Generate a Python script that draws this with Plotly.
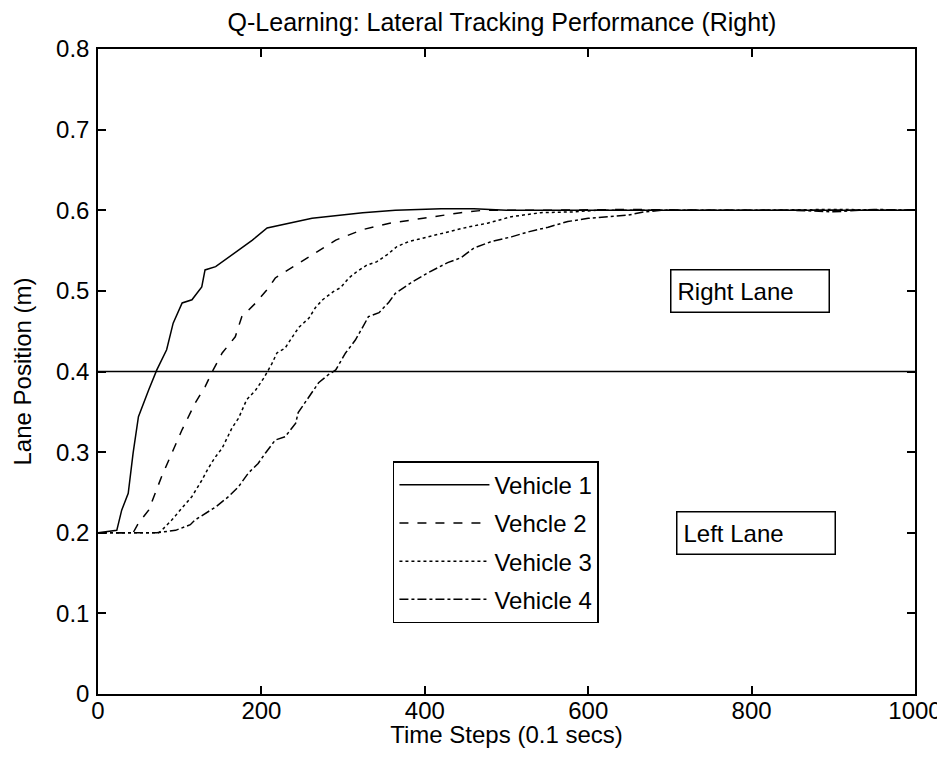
import plotly.graph_objects as go

# ---- data ----
v1_x = [0, 23, 29, 37, 43, 49.5, 62, 72, 84, 92, 103, 115, 127, 131, 144, 168, 189, 207, 233, 262, 324, 364, 420, 460, 500, 600, 700, 800, 900, 1000]
v1_y = [0.2, 0.203, 0.228, 0.249, 0.299, 0.344, 0.377, 0.402, 0.427, 0.46, 0.485, 0.489, 0.505, 0.526, 0.53, 0.547, 0.563, 0.578, 0.584, 0.59, 0.597, 0.6, 0.602, 0.602, 0.6, 0.6, 0.6, 0.6, 0.6, 0.6]

v2_x = [0, 43, 49.5, 62, 70, 78, 90.5, 103, 119, 131, 141, 152, 168, 176, 193, 209, 217, 242, 267, 291, 324, 357, 398, 444, 472, 550, 650, 750, 850, 1000]
v2_y = [0.2, 0.2, 0.212, 0.228, 0.249, 0.27, 0.299, 0.328, 0.361, 0.381, 0.402, 0.423, 0.443, 0.468, 0.485, 0.504, 0.516, 0.532, 0.548, 0.563, 0.576, 0.584, 0.59, 0.597, 0.6, 0.6, 0.601, 0.6, 0.6, 0.6]

v3_x = [0, 74, 78, 90.5, 103, 115, 127, 135, 143, 152, 164, 172, 182, 193, 203, 213, 219, 229, 238, 246, 258, 266, 275, 288, 297, 307, 317, 329, 341, 354, 366, 380, 392, 411, 452, 477, 506, 542, 583, 610, 700, 800, 900, 1000]
v3_y = [0.2, 0.2, 0.203, 0.216, 0.231, 0.245, 0.265, 0.28, 0.293, 0.305, 0.33, 0.342, 0.365, 0.377, 0.392, 0.41, 0.423, 0.429, 0.443, 0.455, 0.466, 0.479, 0.489, 0.499, 0.504, 0.516, 0.524, 0.532, 0.536, 0.545, 0.555, 0.561, 0.564, 0.569, 0.579, 0.584, 0.592, 0.597, 0.598, 0.6, 0.6, 0.6, 0.601, 0.6]

v4_x = [0, 72, 95, 113, 119, 144, 160, 172, 184, 196, 205, 217, 229, 242, 245, 258, 270, 282, 291, 303, 315, 324, 331, 344, 356, 364, 383, 403, 428, 444, 460, 481, 506, 526, 551, 575, 600, 624, 649, 669, 690, 750, 850, 900, 950, 1000]
v4_y = [0.2, 0.2, 0.203, 0.21, 0.216, 0.232, 0.245, 0.257, 0.274, 0.286, 0.299, 0.315, 0.319, 0.336, 0.349, 0.369, 0.386, 0.396, 0.402, 0.423, 0.439, 0.455, 0.468, 0.473, 0.486, 0.497, 0.51, 0.522, 0.535, 0.541, 0.553, 0.561, 0.567, 0.573, 0.579, 0.586, 0.59, 0.592, 0.594, 0.598, 0.6, 0.6, 0.6, 0.598, 0.601, 0.6]

series_names = ["Vehicle 1", "Vehcle 2", "Vehicle 3", "Vehicle 4"]
lane_boundary = 0.4
x_ticks = [0, 200, 400, 600, 800, 1000]
y_ticks = [0, 0.1, 0.2, 0.3, 0.4, 0.5, 0.6, 0.7, 0.8]
y_tick_labels = ["0", "0.1", "0.2", "0.3", "0.4", "0.5", "0.6", "0.7", "0.8"]

FONT = "Liberation Sans, Arial, sans-serif"
FS = 24

fig = go.Figure()
dashes = ["solid", "dash", "dot", "dashdot"]
for i, (xs, ys) in enumerate([(v1_x, v1_y), (v2_x, v2_y), (v3_x, v3_y), (v4_x, v4_y)]):
    fig.add_trace(go.Scatter(
        x=xs, y=ys, mode="lines", name=series_names[i], legendgroup=f"g{i}",
        line=dict(color="black", width=1.5, dash=dashes[i]),
    ))

fig.add_shape(type="line", xref="paper", x0=0, x1=1, yref="y", y0=lane_boundary, y1=lane_boundary,
              line=dict(color="black", width=1.5))

box_style = dict(showarrow=False, xanchor="left", yanchor="middle", align="left",
                 width=145, height=29, bordercolor="black", borderwidth=1.5, borderpad=6,
                 bgcolor="white", font=dict(family=FONT, size=FS, color="black"))
fig.add_annotation(x=700, y=0.5, xref="x", yref="y", text="Right Lane", **box_style)
fig.add_annotation(x=708, y=0.2, xref="x", yref="y", text="Left Lane", **box_style)

axis_common = dict(showline=True, linecolor="black", linewidth=1.5, mirror="ticks",
                   ticks="inside", ticklen=8, tickwidth=1.5, tickcolor="black",
                   showgrid=False, zeroline=False, automargin=False, ticklabeloverflow="allow",
                   tickfont=dict(family=FONT, size=FS, color="black"))

fig.update_xaxes(range=[0, 1000], tickvals=x_ticks, ticktext=[str(v) for v in x_ticks],
                 ticklabelstandoff=-6,
                 title=dict(text="Time Steps (0.1 secs)", font=dict(family=FONT, size=FS, color="black"), standoff=2),
                 **axis_common)
fig.update_yaxes(range=[0, 0.8], tickvals=y_ticks, ticktext=y_tick_labels,
                 ticklabelstandoff=2,
                 title=dict(text="Lane Position (m)", font=dict(family=FONT, size=FS, color="black"), standoff=18),
                 **axis_common)

# the page body has an 8 px margin; size and margins compensate for it
fig.update_layout(
    width=937, height=740,
    margin=dict(l=90, r=30, t=41, b=54, pad=0),
    paper_bgcolor="white", plot_bgcolor="white",
    title=dict(text="Q-Learning: Lateral Tracking Performance (Right)", x=494 / 937, xanchor="center",
               y=1 - 14 / 740, yanchor="middle", yref="container",
               font=dict(family=FONT, size=25, color="black")),
    legend=dict(x=0.361, y=0.361, xanchor="left", yanchor="top", bgcolor="white",
                bordercolor="black", borderwidth=1.5, tracegroupgap=4, itemwidth=90,
                font=dict(family=FONT, size=FS, color="black")),
    showlegend=True,
)

fig.write_html("out.html")
